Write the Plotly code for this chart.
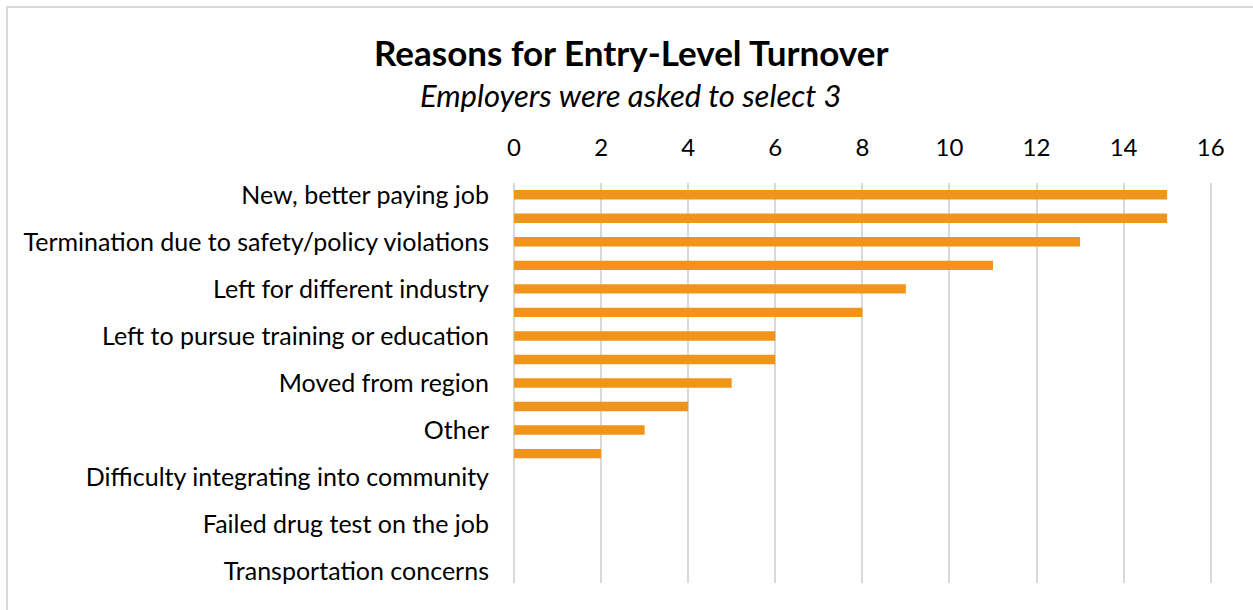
import plotly.graph_objects as go

# Responses per reason, in rank order (17 reasons; every other one is labelled)
counts = [15, 15, 13, 11, 9, 8, 6, 6, 5, 4, 3, 2, 0, 0, 0, 0, 0]
shown_labels = [
    "New, better paying job",
    "Termination due to safety/policy violations",
    "Left for different industry",
    "Left to pursue training or education",
    "Moved from region",
    "Other",
    "Difficulty integrating into community",
    "Failed drug test on the job",
    "Transportation concerns",
]
x_ticks = [0, 2, 4, 6, 8, 10, 12, 14, 16]

BAR_COLOR = "#F0951A"
GRID_COLOR = "#D9D9D9"
FONT = "Lato, 'Open Sans', sans-serif"

positions = list(range(len(counts)))

fig = go.Figure(
    go.Bar(
        x=counts,
        y=positions,
        orientation="h",
        marker=dict(color=BAR_COLOR, line=dict(width=0)),
        width=0.4,
        hoverinfo="x",
    )
)

fig.update_layout(
    width=1253,
    height=610,
    margin=dict(l=514, r=41, t=183, b=27),
    paper_bgcolor="white",
    plot_bgcolor="white",
    showlegend=False,
    font=dict(family=FONT, size=25, color="#000000"),
    xaxis=dict(
        side="top",
        range=[0, 16.03],
        tickvals=x_ticks,
        ticktext=[str(v) for v in x_ticks],
        showgrid=True,
        gridcolor=GRID_COLOR,
        gridwidth=2,
        zeroline=True,
        zerolinecolor=GRID_COLOR,
        zerolinewidth=2,
        showline=False,
        ticks="",
        ticklabelstandoff=21,
        tickfont=dict(size=24, family=FONT, color="#000000"),
        fixedrange=True,
    ),
    yaxis=dict(
        range=[len(counts) - 0.5, -0.5],
        tickvals=positions[::2],
        ticktext=shown_labels,
        showgrid=False,
        zeroline=False,
        showline=False,
        ticks="",
        ticklabelstandoff=24,
        tickfont=dict(size=25, family=FONT, color="#000000"),
        fixedrange=True,
    ),
    annotations=[
        dict(
            text="<b>Reasons for Entry-Level Turnover</b>",
            xref="paper", yref="paper",
            x=(631 - 514) / (1253 - 514 - 41), y=1 + (183 - 52) / 400,
            xanchor="center", yanchor="middle",
            showarrow=False,
            font=dict(size=35, family=FONT, color="#000000"),
        ),
        dict(
            text="<i>Employers were asked to select 3</i>",
            xref="paper", yref="paper",
            x=(631 - 514) / (1253 - 514 - 41), y=1 + (183 - 95) / 400,
            xanchor="center", yanchor="middle",
            showarrow=False,
            font=dict(size=31, family=FONT, color="#000000"),
        ),
    ],
    shapes=[
        # light frame around the chart area
        dict(
            type="rect",
            xref="paper", yref="paper",
            x0=(7 - 514) / 698, x1=(1260 - 514) / 698,
            y0=1 + (183 - 620) / 400, y1=1 + (183 - 7) / 400,
            line=dict(color=GRID_COLOR, width=2),
            fillcolor="rgba(0,0,0,0)",
            layer="below",
        )
    ],
)

fig.write_html("out.html")
